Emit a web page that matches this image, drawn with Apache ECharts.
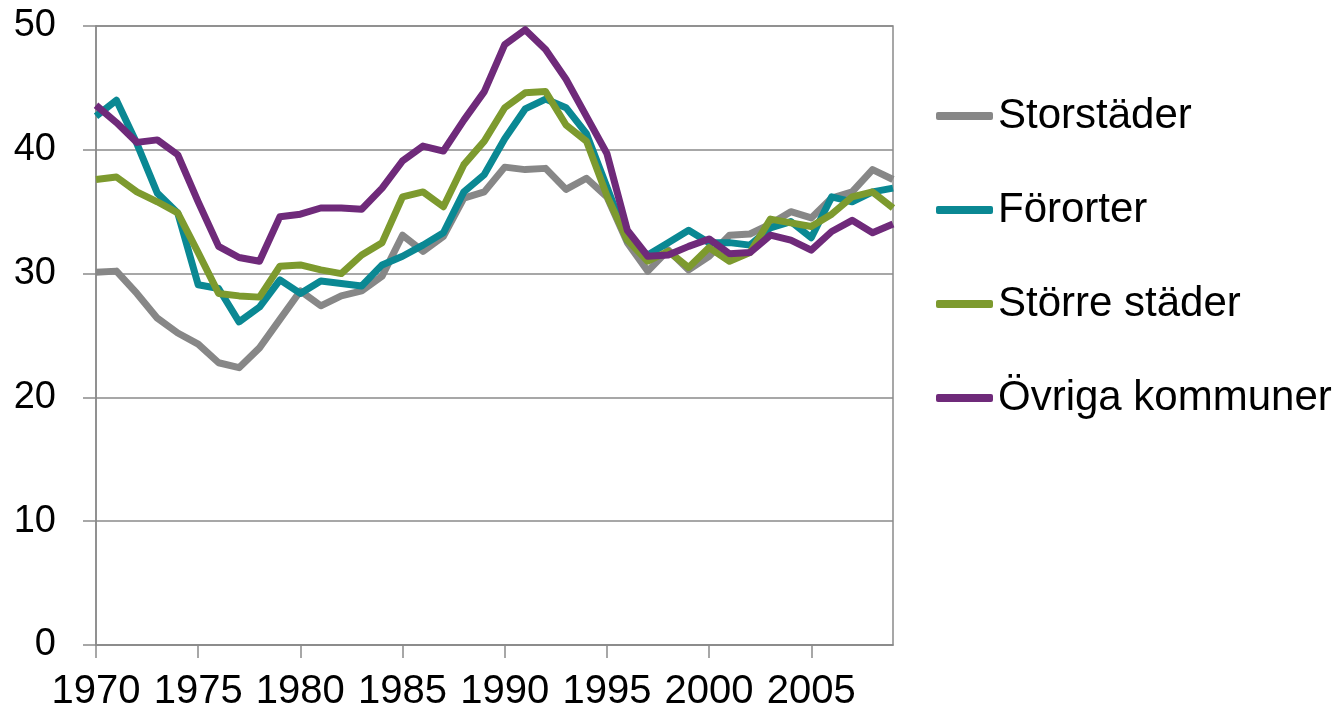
<!DOCTYPE html>
<html>
<head>
<meta charset="utf-8">
<style>
  html, body { margin: 0; padding: 0; background: #ffffff; }
  #chart { width: 1341px; height: 714px; }
</style>
<script src="https://cdn.jsdelivr.net/npm/echarts@6/dist/echarts.min.js"></script>
</head>
<body>
<div id="chart"></div>
<script>
const years = [];
for (let y = 1970; y <= 2009; y++) years.push(String(y));

const seriesNames = ['Storstäder', 'Förorter', 'Större städer', 'Övriga kommuner'];

const storstader = [30.1, 30.2, 28.4, 26.4, 25.2, 24.3, 22.8, 22.4, 24.0, 26.3,
                    28.6, 27.4, 28.2, 28.6, 29.8, 33.1, 31.8, 33.0, 36.1, 36.6,
                    38.6, 38.4, 38.5, 36.8, 37.7, 36.2, 32.5, 30.2, 31.9, 30.3,
                    31.4, 33.1, 33.2, 34.0, 35.0, 34.5, 36.1, 36.6, 38.4, 37.6];

const fororter = [42.7, 44.0, 40.5, 36.5, 34.9, 29.1, 28.8, 26.1, 27.3, 29.5,
                  28.4, 29.4, 29.2, 29.0, 30.7, 31.4, 32.3, 33.3, 36.6, 38.0,
                  40.9, 43.3, 44.1, 43.4, 41.3, 37.0, 32.7, 31.5, 32.5, 33.5,
                  32.5, 32.5, 32.3, 33.7, 34.2, 32.9, 36.2, 35.8, 36.6, 36.9];

const storreStader = [37.6, 37.8, 36.6, 35.8, 34.9, 31.7, 28.4, 28.2, 28.1, 30.6,
                      30.7, 30.3, 30.0, 31.5, 32.5, 36.2, 36.6, 35.4, 38.8, 40.7,
                      43.4, 44.6, 44.7, 42.0, 40.7, 36.3, 32.7, 31.0, 31.8, 30.5,
                      32.1, 31.0, 31.7, 34.4, 34.1, 33.8, 34.8, 36.2, 36.6, 35.3];

const ovriga = [43.6, 42.2, 40.6, 40.8, 39.6, 35.8, 32.2, 31.3, 31.0, 34.6,
                34.8, 35.3, 35.3, 35.2, 36.9, 39.1, 40.3, 39.9, 42.4, 44.7,
                48.5, 49.7, 48.1, 45.7, 42.7, 39.7, 33.5, 31.4, 31.5, 32.2,
                32.8, 31.6, 31.7, 33.1, 32.7, 31.9, 33.4, 34.3, 33.3, 34.0];

const yTicks = [0, 10, 20, 30, 40, 50];

const colors = ['#878787', '#0A8893', '#7D9A2E', '#6F2A7A'];
const seriesData = [storstader, fororter, storreStader, ovriga];

const font = '"Liberation Sans", Arial, sans-serif';
const axisGray = '#8A8A8A';

const chart = echarts.init(document.getElementById('chart'), null, { renderer: 'canvas' });

chart.setOption({
  animation: false,
  backgroundColor: '#ffffff',
  color: colors,
  grid: {
    left: 96, right: 448, top: 26, bottom: 69,
    show: true, borderColor: axisGray, borderWidth: 1.5, backgroundColor: 'transparent'
  },
  legend: {
    orient: 'vertical',
    left: 936,
    top: 95,
    padding: 0,
    itemWidth: 57,
    itemHeight: 8,
    itemGap: 52,
    icon: 'roundRect',
    data: seriesNames,
    textStyle: { fontFamily: font, fontSize: 42, color: '#000000', lineHeight: 42 }
  },
  xAxis: {
    type: 'category',
    data: years,
    boundaryGap: false,
    axisLine: { lineStyle: { color: axisGray, width: 1.5 } },
    axisTick: { show: true, interval: 4, length: 13, lineStyle: { color: axisGray, width: 1.5 } },
    axisLabel: { interval: 4, margin: 27, fontFamily: font, fontSize: 40, color: '#000000' },
    splitLine: { show: false }
  },
  yAxis: {
    type: 'value',
    min: yTicks[0],
    max: yTicks[yTicks.length - 1],
    interval: 10,
    axisLine: { show: true, lineStyle: { color: axisGray, width: 1.5 } },
    axisTick: { show: true, length: 13, lineStyle: { color: axisGray, width: 1.5 } },
    axisLabel: { margin: 40, fontFamily: font, fontSize: 38, color: '#000000' },
    splitLine: { show: true, lineStyle: { color: axisGray, width: 1.5 } }
  },
  series: seriesNames.map((name, i) => ({
    name: name,
    type: 'line',
    data: seriesData[i],
    symbol: 'none',
    smooth: false,
    lineStyle: { width: 7, color: colors[i], join: 'round' },
    itemStyle: { color: colors[i] }
  }))
});
</script>
</body>
</html>
